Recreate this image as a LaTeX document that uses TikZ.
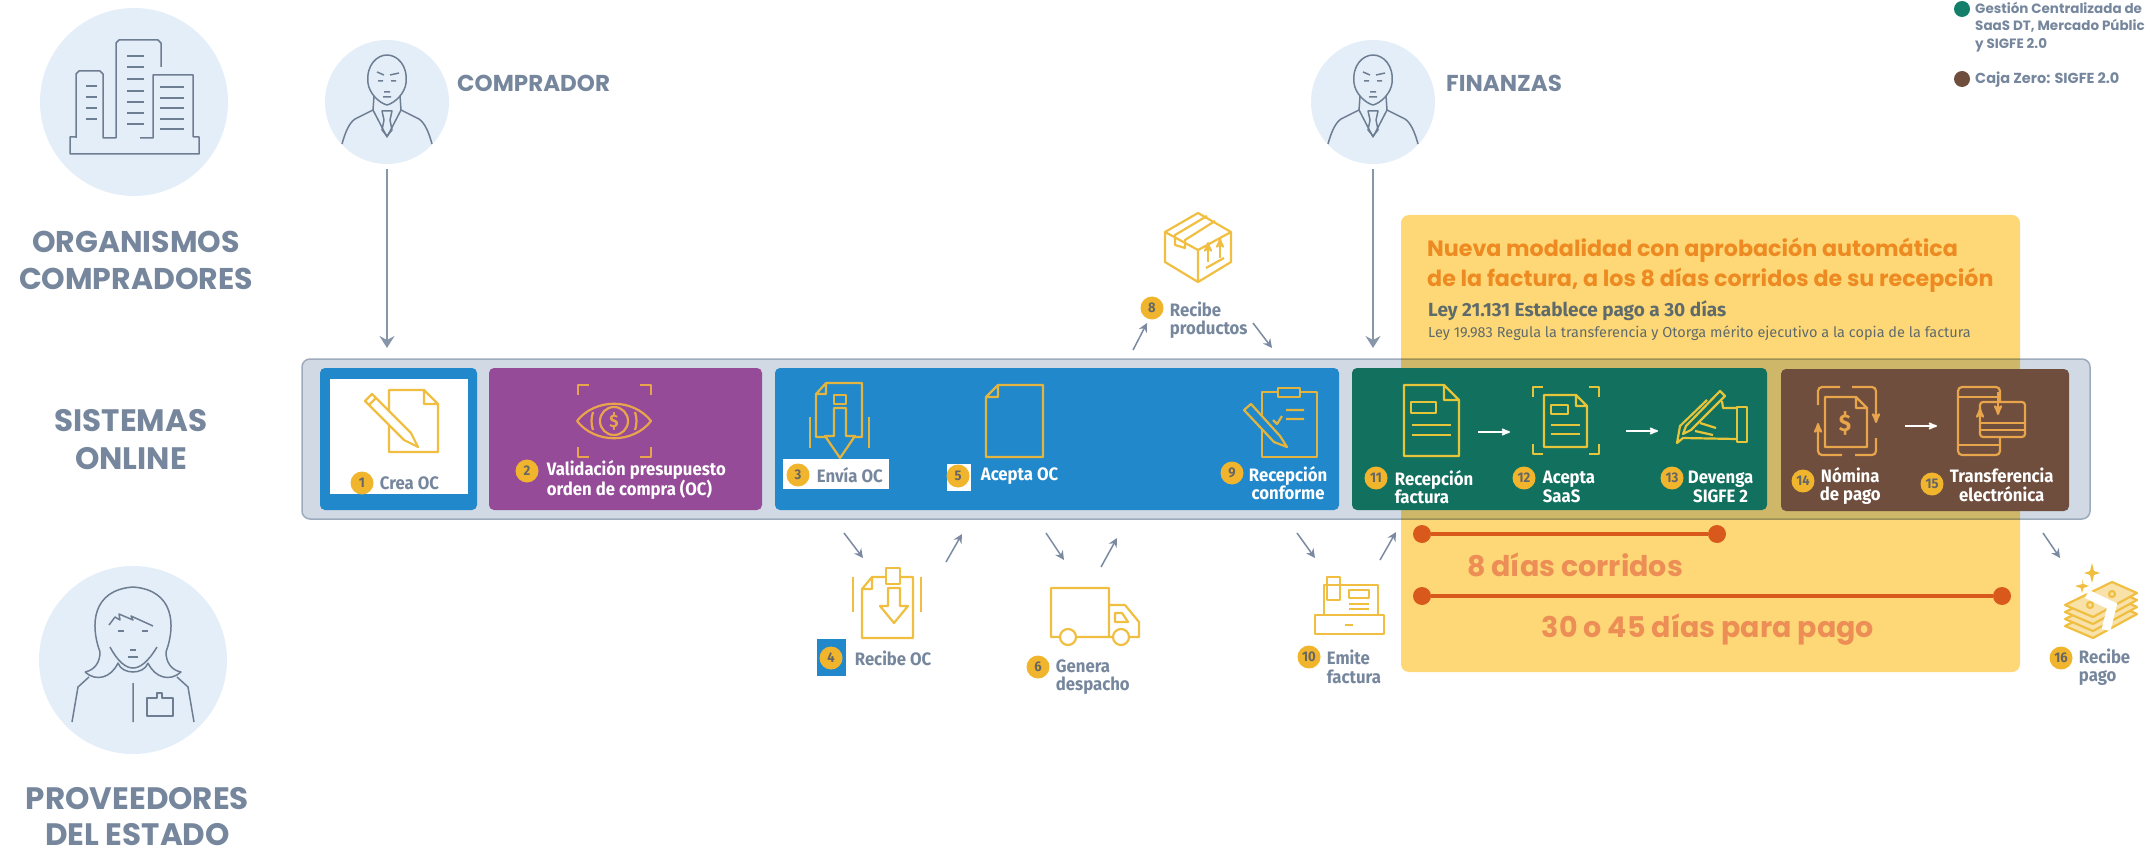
\documentclass[tikz,border=0pt]{standalone}
\usepackage{fontspec}
\usepackage{xcolor}
\usetikzlibrary{arrows,arrows.meta,calc,positioning}
\newfontfamily\headfont{Poppins}
\newfontfamily\plainfont{Fira Sans}
\newfontfamily\tagfont[FakeStretch=0.93]{Fira Sans}
\definecolor{slate}{HTML}{76879D}
\definecolor{inkgray}{HTML}{6D7D92}
\definecolor{flowgray}{HTML}{7B8AA0}
\definecolor{lawgray}{HTML}{5F6B6B}
\definecolor{tagblue}{HTML}{2188CB}
\definecolor{tagpurple}{HTML}{954B97}
\definecolor{taggreen}{HTML}{12705F}
\definecolor{dotgreen}{HTML}{137F6B}
\definecolor{tagbrown}{HTML}{6F4E3D}
\definecolor{paleblue}{HTML}{E4EEF8}
\definecolor{barfill}{HTML}{D0D9E4}
\definecolor{barline}{HTML}{9DABBC}
\definecolor{promo}{HTML}{FED876}
\definecolor{goldtag}{HTML}{F0B52C}
\definecolor{iconyellow}{HTML}{F0BF42}
\definecolor{iconblue}{HTML}{E3B53E}
\definecolor{iconorange}{HTML}{E8A54B}
\definecolor{icongreen}{HTML}{E6C53A}
\definecolor{lineorange}{HTML}{D9591C}
\definecolor{softorange}{HTML}{EC8E55}
\definecolor{titleorange}{HTML}{EE8A22}
\tikzset{
  man/.pic={
    \draw[figline] (-19,-20) .. controls (-21,-38) and (-10,-48) .. (0,-48) .. controls (10,-48) and (21,-38) .. (19,-20) .. controls (18,-10) and (8,0) .. (0,2) .. controls (-8,0) and (-18,-10) .. (-19,-20);
    \draw[figline] (-13,-7) -- (-14,7) -- (0,34) -- (14,7) -- (13,-7);
    \draw[figline] (-14,7) -- (-32,16) .. controls (-38,20) and (-42,30) .. (-45,41);
    \draw[figline] (14,7) -- (32,16) .. controls (38,20) and (42,30) .. (45,41);
    \draw[figline] (-5,8) -- (5,8) -- (3,17) -- (5,27) -- (0,33) -- (-5,27) -- (-3,17) -- cycle;
    \draw[figline] (-10,-31) -- (-3,-28) (3,-28) -- (12,-30) (-9,-22) -- (-4,-22) (4,-22) -- (9,-22) (-3,-11) -- (3,-11) (-4,-6) -- (4,-6);
  }
}
\begin{document}
\begin{tikzpicture}[x=1pt,y=-1pt,>=stealth',node distance=12pt]
  \tikzstyle{figline}=[draw=inkgray, line width=1.5pt, line join=round]
  \tikzstyle{flow}=[-{Stealth[length=9pt,width=9pt,inset=3pt]}, draw=flowgray, line width=1.5pt]
  \tikzstyle{longflow}=[-{Stealth[length=12pt,width=15pt,inset=4pt]}, draw=flowgray!90, line width=1.6pt, shorten <=5pt]
  \tikzstyle{whiteflow}=[->, draw=white, line width=1.8pt]
  \tikzstyle{bigcircle}=[circle, fill=paleblue, inner sep=0pt, minimum size=188pt]
  \tikzstyle{headcircle}=[circle, fill=paleblue, inner sep=0pt, minimum size=124pt]
  \tikzstyle{heading}=[text=slate, align=center, inner sep=0pt, font=\headfont\bfseries\fontsize{30}{37}\selectfont]
  \tikzstyle{rolename}=[text=slate, anchor=west, inner sep=0pt, font=\headfont\bfseries\fontsize{23}{23}\selectfont]
  \tikzstyle{stagebox}=[rounded corners=5pt, inner sep=0pt, outer sep=0pt, minimum height=142pt]
  \tikzstyle{badge}=[circle, fill=goldtag, inner sep=0pt, minimum size=23pt, text=black!60, font=\tagfont\bfseries\fontsize{14}{14}\selectfont]
  \tikzstyle{tag}=[inner sep=0pt, align=left, text=white, font=\tagfont\bfseries\fontsize{18}{18.5}\selectfont]
  \tikzstyle{graytag}=[tag, text=slate]
  \tikzstyle{ico}=[draw=iconyellow, line width=2.2pt, line join=round]
  \tikzstyle{legendnote}=[text=slate, anchor=west, align=left, inner sep=0pt, font=\headfont\bfseries\fontsize{13.5}{17.5}\selectfont]
  \tikzstyle{period}=[circle, fill=lineorange, inner sep=0pt, minimum size=18pt]
  \useasboundingbox (0,0) rectangle (2151,850);
  % left column
  \node[bigcircle] (org) at (134,102) {};
  \node[heading] (orgname) at (136,260) {ORGANISMOS\\COMPRADORES};
  \node[heading, font=\headfont\bfseries\fontsize{31}{38}\selectfont] (online) at (131,440) {SISTEMAS\\ONLINE};
  \node[bigcircle] (prov) at (133,660) {};
  \node[heading, font=\headfont\bfseries\fontsize{31}{36}\selectfont] (provname) at (137.5,817) {PROVEEDORES\\DEL ESTADO};
  \draw[figline] (76,138) -- (76,74) -- (79,71) -- (100,71) -- (103,74) -- (103,138) -- (116,138) -- (116,43) -- (119,40) -- (158,40) -- (161,43) -- (161,67) (140,138) -- (153,138) -- (153,75) -- (193,75) -- (193,137) (76,137) -- (70,137) -- (70,154) -- (199,154) -- (199,137) -- (193,137);
  \foreach \y in {86,97,108,119} \draw[figline] (86,\y) -- (97,\y);
  \foreach \y in {56,67,79,91,102,113,124} \draw[figline] (127,\y) -- (144,\y);
  \foreach \y in {87,98,108,119,129} \draw[figline] (160,\y) -- (184,\y);
  \draw[figline] (85,672) .. controls (95,670) and (100,662) .. (100,652) .. controls (90,625) and (92,590) .. (133,587) .. controls (174,590) and (176,625) .. (166,652) .. controls (166,662) and (171,670) .. (181,672) .. controls (170,682) and (155,678) .. (148,663) (85,672) .. controls (96,682) and (111,678) .. (118,663) .. controls (122,675) and (144,675) .. (148,663);
  \draw[figline] (72,722) -- (78,687) -- (89,677) (194,722) -- (188,687) -- (177,677) (133,683) -- (133,722);
  \draw[figline] (110,647) .. controls (118,662) and (126,668) .. (133,668) .. controls (140,668) and (148,662) .. (157,647);
  \draw[figline] (109,625) -- (115,617) -- (120,620) -- (119,614) -- (133,620) -- (131,616) -- (153,626);
  \draw[figline] (118,631) -- (124,631) (142,631) -- (148,631) (130,650) -- (136,650) (128,657) -- (138,657);
  \draw[figline] (147,698) -- (157,698) -- (157,693) -- (162,693) -- (162,698) -- (173,698) -- (173,716) -- (147,716) -- cycle;
  % people
  \node[headcircle] (comprador) at (387,102) {};
  \node[headcircle] (finanzas) at (1373,102) {};
  \pic at (387,103) {man};
  \pic at (1373,103) {man};
  \node[rolename] (compname) at (457,83) {COMPRADOR};
  \node[rolename] (finname) at (1446,83) {FINANZAS};
  % legend
  \node[circle, fill=dotgreen, minimum size=16pt, inner sep=0pt] (markgreen) at (1962,9) {};
  \node[legendnote] (notegreen) at (1975,27) {Gestión Centralizada de\\SaaS DT, Mercado Públic\\y SIGFE 2.0};
  \node[circle, fill=tagbrown, minimum size=16pt, inner sep=0pt] (markbrown) at (1962,79) {};
  \node[legendnote, font=\headfont\bfseries\fontsize{14.5}{17.5}\selectfont] (notebrown) at (1975,80) {Caja Zero: SIGFE 2.0};
  % bar with boxes
  \node[draw=barline, fill=barfill, line width=1.5pt, rounded corners=8pt, minimum width=1788pt, minimum height=160pt, inner sep=0pt] (bar) at (1196,439) {};
  \begin{scope}[blend mode=multiply]
    \node[fill=promo, rounded corners=8pt, minimum width=619pt, minimum height=457pt, inner sep=0pt] (promobox) at (1710.5,443.5) {};
  \end{scope}
  \node[stagebox, fill=tagblue, minimum width=157pt] (box1) at (398.5,439) {};
  \node[stagebox, fill=tagpurple, minimum width=273pt, right=12pt of box1] (box2) {};
  \node[stagebox, fill=tagblue, minimum width=564pt, right=13pt of box2] (box3) {};
  \node[stagebox, fill=taggreen, minimum width=415pt, right=13pt of box3] (box4) {};
  \node[stagebox, fill=tagbrown, minimum width=288pt, right=14pt of box4, yshift=-1pt] (box5) {};
  \node[fill=white, minimum width=138pt, minimum height=115pt, inner sep=0pt] (blank1) at (399,436.5) {};
  \node[fill=white, minimum width=106pt, minimum height=30pt, inner sep=0pt] (blank3) at (836,474) {};
  \node[fill=white, minimum width=24pt, minimum height=27pt, inner sep=0pt] (blank5) at (959,477) {};
  \node[fill=tagblue, minimum width=29pt, minimum height=37pt, inner sep=0pt] (blank4) at (831.5,657.5) {};
  % badges and labels
  \node[badge] (b1) at (362,483) {1};
  \node[graytag, right=6pt of b1] (t1) {Crea OC};
  \node[badge] (b2) at (527,471) {2};
  \node[tag, right=8pt of b2, yshift=-9pt] (t2) {Validación presupuesto\\orden de compra (OC)};
  \node[badge] (b3) at (798,475) {3};
  \node[graytag, right=7pt of b3] (t3) {Envía OC};
  \node[badge] (b5) at (958,476) {5};
  \node[tag, right=11pt of b5] (t5) {Acepta OC};
  \node[badge] (b9) at (1232,473) {9};
  \node[tag, align=center, right=5pt of b9, yshift=-10pt] (t9) {Recepción\\conforme};
  \node[badge] (b11) at (1376,478) {11};
  \node[tag, right=7pt of b11, yshift=-9pt] (t11) {Recepción\\factura};
  \node[badge] (b12) at (1524,478) {12};
  \node[tag, right=7pt of b12, yshift=-9pt] (t12) {Acepta\\SaaS};
  \node[badge] (b13) at (1672,478) {13};
  \node[tag, align=center, right=4pt of b13, yshift=-9pt] (t13) {Devenga\\SIGFE 2};
  \node[badge] (b14) at (1803,481) {14};
  \node[tag, align=center, right=5pt of b14, yshift=-5pt] (t14) {Nómina\\de pago};
  \node[badge] (b15) at (1932,484) {15};
  \node[tag, align=center, right=6pt of b15, yshift=-1pt] (t15) {Transferencia\\electrónica};
  \node[badge] (b4) at (831,658) {4};
  \node[graytag, right=12pt of b4] (t4) {Recibe OC};
  \node[badge] (b6) at (1038,667) {6};
  \node[graytag, right=6pt of b6, yshift=-10pt] (t6) {Genera\\despacho};
  \node[badge] (b8) at (1152,308) {8};
  \node[graytag, right=6pt of b8, yshift=-12pt] (t8) {Recibe\\productos};
  \node[badge] (b10) at (1309,657) {10};
  \node[graytag, right=6pt of b10, yshift=-10pt] (t10) {Emite\\factura};
  \node[badge] (b16) at (2061,658) {16};
  \node[graytag, right=6pt of b16, yshift=-9pt] (t16) {Recibe\\pago};
  % promo texts
  \node[anchor=west, inner sep=0pt, align=left, text=titleorange, font=\headfont\bfseries\fontsize{22.2}{30}\selectfont] (promotitle) at (1427,265) {Nueva modalidad con aprobación automática\\de la factura, a los 8 días corridos de su recepción};
  \node[anchor=west, inner sep=0pt, text=lawgray, font=\plainfont\bfseries\fontsize{19}{19}\selectfont] (ley1) at (1428,311) {Ley 21.131 Establece pago a 30 días};
  \node[anchor=west, inner sep=0pt, text=lawgray, font=\plainfont\fontsize{14.5}{14.5}\selectfont] (ley2) at (1428,333) {Ley 19.983 Regula la transferencia y Otorga mérito ejecutivo a la copia de la factura};
  \node[period] (d8a) at (1422,534) {};
  \node[period] (d8b) at (1717,534) {};
  \node[period] (d30a) at (1422,596) {};
  \node[period] (d30b) at (2002,596) {};
  \draw[lineorange, line width=4pt] (d8a) -- (d8b);
  \draw[lineorange, line width=4pt] (d30a) -- (d30b);
  \node[text=softorange, inner sep=0pt, font=\headfont\bfseries\fontsize{28.5}{28.5}\selectfont] (dias8) at (1575,565) {8 días corridos};
  \node[text=softorange, inner sep=0pt, font=\headfont\bfseries\fontsize{28.5}{28.5}\selectfont] (dias30) at (1708,630) {30 o 45 días para pago};
  % connectors
  \coordinate (compend) at (387,348);
  \coordinate (finend) at (1373,348);
  \coordinate (a4s) at (844,533); \coordinate (a4e) at (863,558);
  \coordinate (a5s) at (946,562); \coordinate (a5e) at (962,534);
  \coordinate (a6s) at (1046,533); \coordinate (a6e) at (1064,560);
  \coordinate (a7s) at (1101,567); \coordinate (a7e) at (1117,538);
  \coordinate (a8s) at (1133,350); \coordinate (a8e) at (1147,323);
  \coordinate (a9s) at (1253,323); \coordinate (a9e) at (1272,348);
  \coordinate (a10s) at (1297,533); \coordinate (a10e) at (1315,558);
  \coordinate (a11s) at (1380,560); \coordinate (a11e) at (1396,532);
  \coordinate (a16s) at (2043,533); \coordinate (a16e) at (2060,558);
  \path (comprador.south) edge [longflow] (compend)
        (finanzas.south) edge [longflow] (finend)
        (a4s) edge [flow] (a4e)
        (a5s) edge [flow] (a5e)
        (a6s) edge [flow] (a6e)
        (a7s) edge [flow] (a7e)
        (a8s) edge [flow] (a8e)
        (a9s) edge [flow] (a9e)
        (a10s) edge [flow] (a10e)
        (a11s) edge [flow] (a11e)
        (a16s) edge [flow] (a16e);
  \coordinate (w1s) at (1478,432); \coordinate (w1e) at (1510,432);
  \coordinate (w2s) at (1626,431); \coordinate (w2e) at (1658,431);
  \coordinate (w3s) at (1905,426); \coordinate (w3e) at (1937,426);
  \path (w1s) edge [whiteflow] (w1e)
        (w2s) edge [whiteflow] (w2e)
        (w3s) edge [whiteflow] (w3e);
  % icons
  \draw[ico] (389,390) -- (424,390) -- (438,404) -- (438,452) -- (389,452) -- cycle (424,390) -- (424,404) -- (438,404);
  \draw[ico, fill=white] (365,401) -- (372,394) -- (411,433) -- (418,447) -- (404,440) -- cycle (369,405) -- (376,398);
  \begin{scope}[ico, draw=iconorange]
    \draw (577,421) .. controls (595,398) and (633,398) .. (651,421) .. controls (633,444) and (595,444) .. (577,421);
    \draw (614,421) circle (14pt);
    \draw (593,412) .. controls (591,418) and (591,424) .. (593,430) (635,412) .. controls (637,418) and (637,424) .. (635,430);
    \draw (578,395) -- (578,385) -- (589,385) (640,385) -- (651,385) -- (651,395) (578,447) -- (578,457) -- (589,457) (640,457) -- (651,457) -- (651,447);
  \end{scope}
  \node[text=iconorange, inner sep=0pt, font=\tagfont\bfseries\fontsize{18}{18}\selectfont] (dollar2) at (614,421) {\$};
  \begin{scope}[ico, draw=iconblue]
    \draw (826,383) -- (862,383) -- (862,437) -- (816,437) -- (816,394) -- cycle (826,383) -- (826,394) -- (816,394);
    \draw (834,395) rectangle (846,404);
    \draw[fill=tagblue] (834,408) -- (846,408) -- (846,436) -- (855,436) -- (840,458) -- (825,436) -- (834,436) -- cycle;
    \draw (810,417) -- (810,448) (869,417) -- (869,448);
    \draw (998,385) -- (1043,385) -- (1043,457) -- (986,457) -- (986,397) -- cycle (998,385) -- (998,397) -- (986,397);
    \draw (1262,399) -- (1262,457) -- (1317,457) -- (1317,392) -- (1300,392) (1278,392) -- (1262,392) -- (1262,399) (1278,397) -- (1278,388) -- (1300,388) -- (1300,397) -- cycle;
    \draw (1286,410) -- (1304,410) (1286,419) -- (1304,419) (1273,420) -- (1277,424) -- (1282,416);
    \draw[fill=tagblue] (1244,410) -- (1251,404) -- (1280,436) -- (1287,447) -- (1274,442) -- cycle;
  \end{scope}
  \begin{scope}[ico, draw=icongreen]
    \draw (1404,385) -- (1444,385) -- (1459,400) -- (1459,456) -- (1404,456) -- cycle (1444,385) -- (1444,400) -- (1459,400);
    \draw (1411,402) rectangle (1436,413) (1412,425) -- (1451,425) (1412,435) -- (1451,435);
    \draw (1533,397) -- (1533,387) -- (1543,387) (1589,387) -- (1599,387) -- (1599,397) (1533,444) -- (1533,454) -- (1543,454) (1589,454) -- (1599,454) -- (1599,444);
    \draw (1544,395) -- (1576,395) -- (1587,406) -- (1587,447) -- (1544,447) -- cycle (1576,395) -- (1576,406) -- (1587,406);
    \draw (1551,405) rectangle (1568,414) (1551,425) -- (1580,425) (1551,434) -- (1580,434);
    \draw (1720,391) -- (1725,396) -- (1691,430) -- (1683,434) -- (1686,426) -- cycle;
    \draw (1737,407) rectangle (1747,442);
    \draw (1707,400) -- (1680,426) -- (1677,443) -- (1683,438) -- (1737,439) (1722,401) -- (1723,408) -- (1737,408) (1700,423) -- (1716,428) (1695,431) -- (1713,435);
  \end{scope}
  \begin{scope}[ico, draw=iconorange]
    \draw[->, rounded corners=4pt] (1852,387) -- (1876,387) -- (1876,423);
    \draw[->, rounded corners=4pt] (1842,455) -- (1818,455) -- (1818,423);
    \draw[rounded corners=4pt] (1818,405) -- (1818,387) -- (1840,387) (1876,438) -- (1876,455) -- (1855,455);
    \draw (1825,397) -- (1856,397) -- (1867,408) -- (1867,447) -- (1825,447) -- cycle (1856,397) -- (1856,408) -- (1867,408);
    \draw[rounded corners=4pt] (1982,387) -- (1958,387) -- (1958,455) -- (2000,455) -- (2000,438) (1982,387) -- (2000,387) -- (2000,402);
    \draw (1958,397) -- (1998,397) (1958,445) -- (2000,445);
    \draw[fill=tagbrown, rounded corners=3pt] (1980,402) rectangle (2025,437);
    \draw (1980,423) -- (2025,423) (1980,430) -- (2025,430);
    \draw[->] (1980,423) -- (1980,408);
    \draw[->] (1998,392) -- (1998,415);
  \end{scope}
  \node[text=iconorange, inner sep=0pt, font=\tagfont\bfseries\fontsize{24}{24}\selectfont] (dollar14) at (1845,423) {\$};
  % icon on white
  \draw[ico] (872,577) -- (913,577) -- (913,638) -- (862,638) -- (862,589) -- cycle (872,577) -- (872,589) -- (862,589);
  \draw[ico, fill=white] (886,568) rectangle (900,584);
  \draw[ico, fill=white] (888,588) -- (900,588) -- (900,606) -- (908,606) -- (894,623) -- (880,606) -- (888,606) -- cycle;
  \draw[ico] (853,577) -- (853,612) (921,577) -- (921,612);
  \draw[ico] (1060,637) -- (1051,637) -- (1051,588) -- (1109,588) -- (1109,637) -- (1076,637) (1109,605) -- (1125,605) -- (1139,622) -- (1139,637) -- (1129,637) (1113,637) -- (1109,637) (1115,613) -- (1122,613) -- (1128,622) -- (1115,622) -- cycle;
  \draw[ico] (1068,637) circle (8pt) (1121,637) circle (8pt);
  \draw[ico] (1165,232) -- (1198,213) -- (1231,232) -- (1231,262) -- (1198,282) -- (1165,262) -- cycle (1165,232) -- (1198,250) -- (1231,232) (1198,250) -- (1198,282);
  \draw[ico] (1207,216) -- (1175,235) -- (1175,245) -- (1185,248) -- (1185,240) -- (1215,221);
  \draw[ico, ->] (1208,262) -- (1208,242);
  \draw[ico, ->] (1220,258) -- (1220,238);
  \draw[ico] (1206,268) -- (1224,258);
  \draw[ico] (1315,615) rectangle (1384,634) (1345,625) -- (1353,625) (1324,615) -- (1324,585) -- (1378,585) -- (1378,615) (1327,600) -- (1327,577) -- (1340,577) -- (1340,600) -- cycle (1349,590) rectangle (1369,598) (1349,604) -- (1369,604) (1349,609) -- (1369,609);
  \foreach \z in {21,14,7,0}
    \draw[ico, fill=iconyellow!45] ($(2065,605)+(0,\z)$) -- ($(2112,582)+(0,\z)$) -- ($(2137,593)+(0,\z)$) -- ($(2093,617)+(0,\z)$) -- cycle;
  \draw[draw=white, line width=9pt] (2087,594) -- (2112,606) -- (2106,630);
  \draw[ico] (2090,605) circle (3pt) (2112,594) circle (3pt);
  \fill[iconyellow] (2092,563) -- (2094,571) -- (2100,573) -- (2094,575) -- (2092,583) -- (2090,575) -- (2084,573) -- (2090,571) -- cycle;
  \fill[iconyellow] (2082,579) -- (2083.5,584) -- (2089,586) -- (2083.5,588) -- (2082,593) -- (2080.5,588) -- (2075,586) -- (2082.5,584) -- cycle;
\end{tikzpicture}
\end{document}
